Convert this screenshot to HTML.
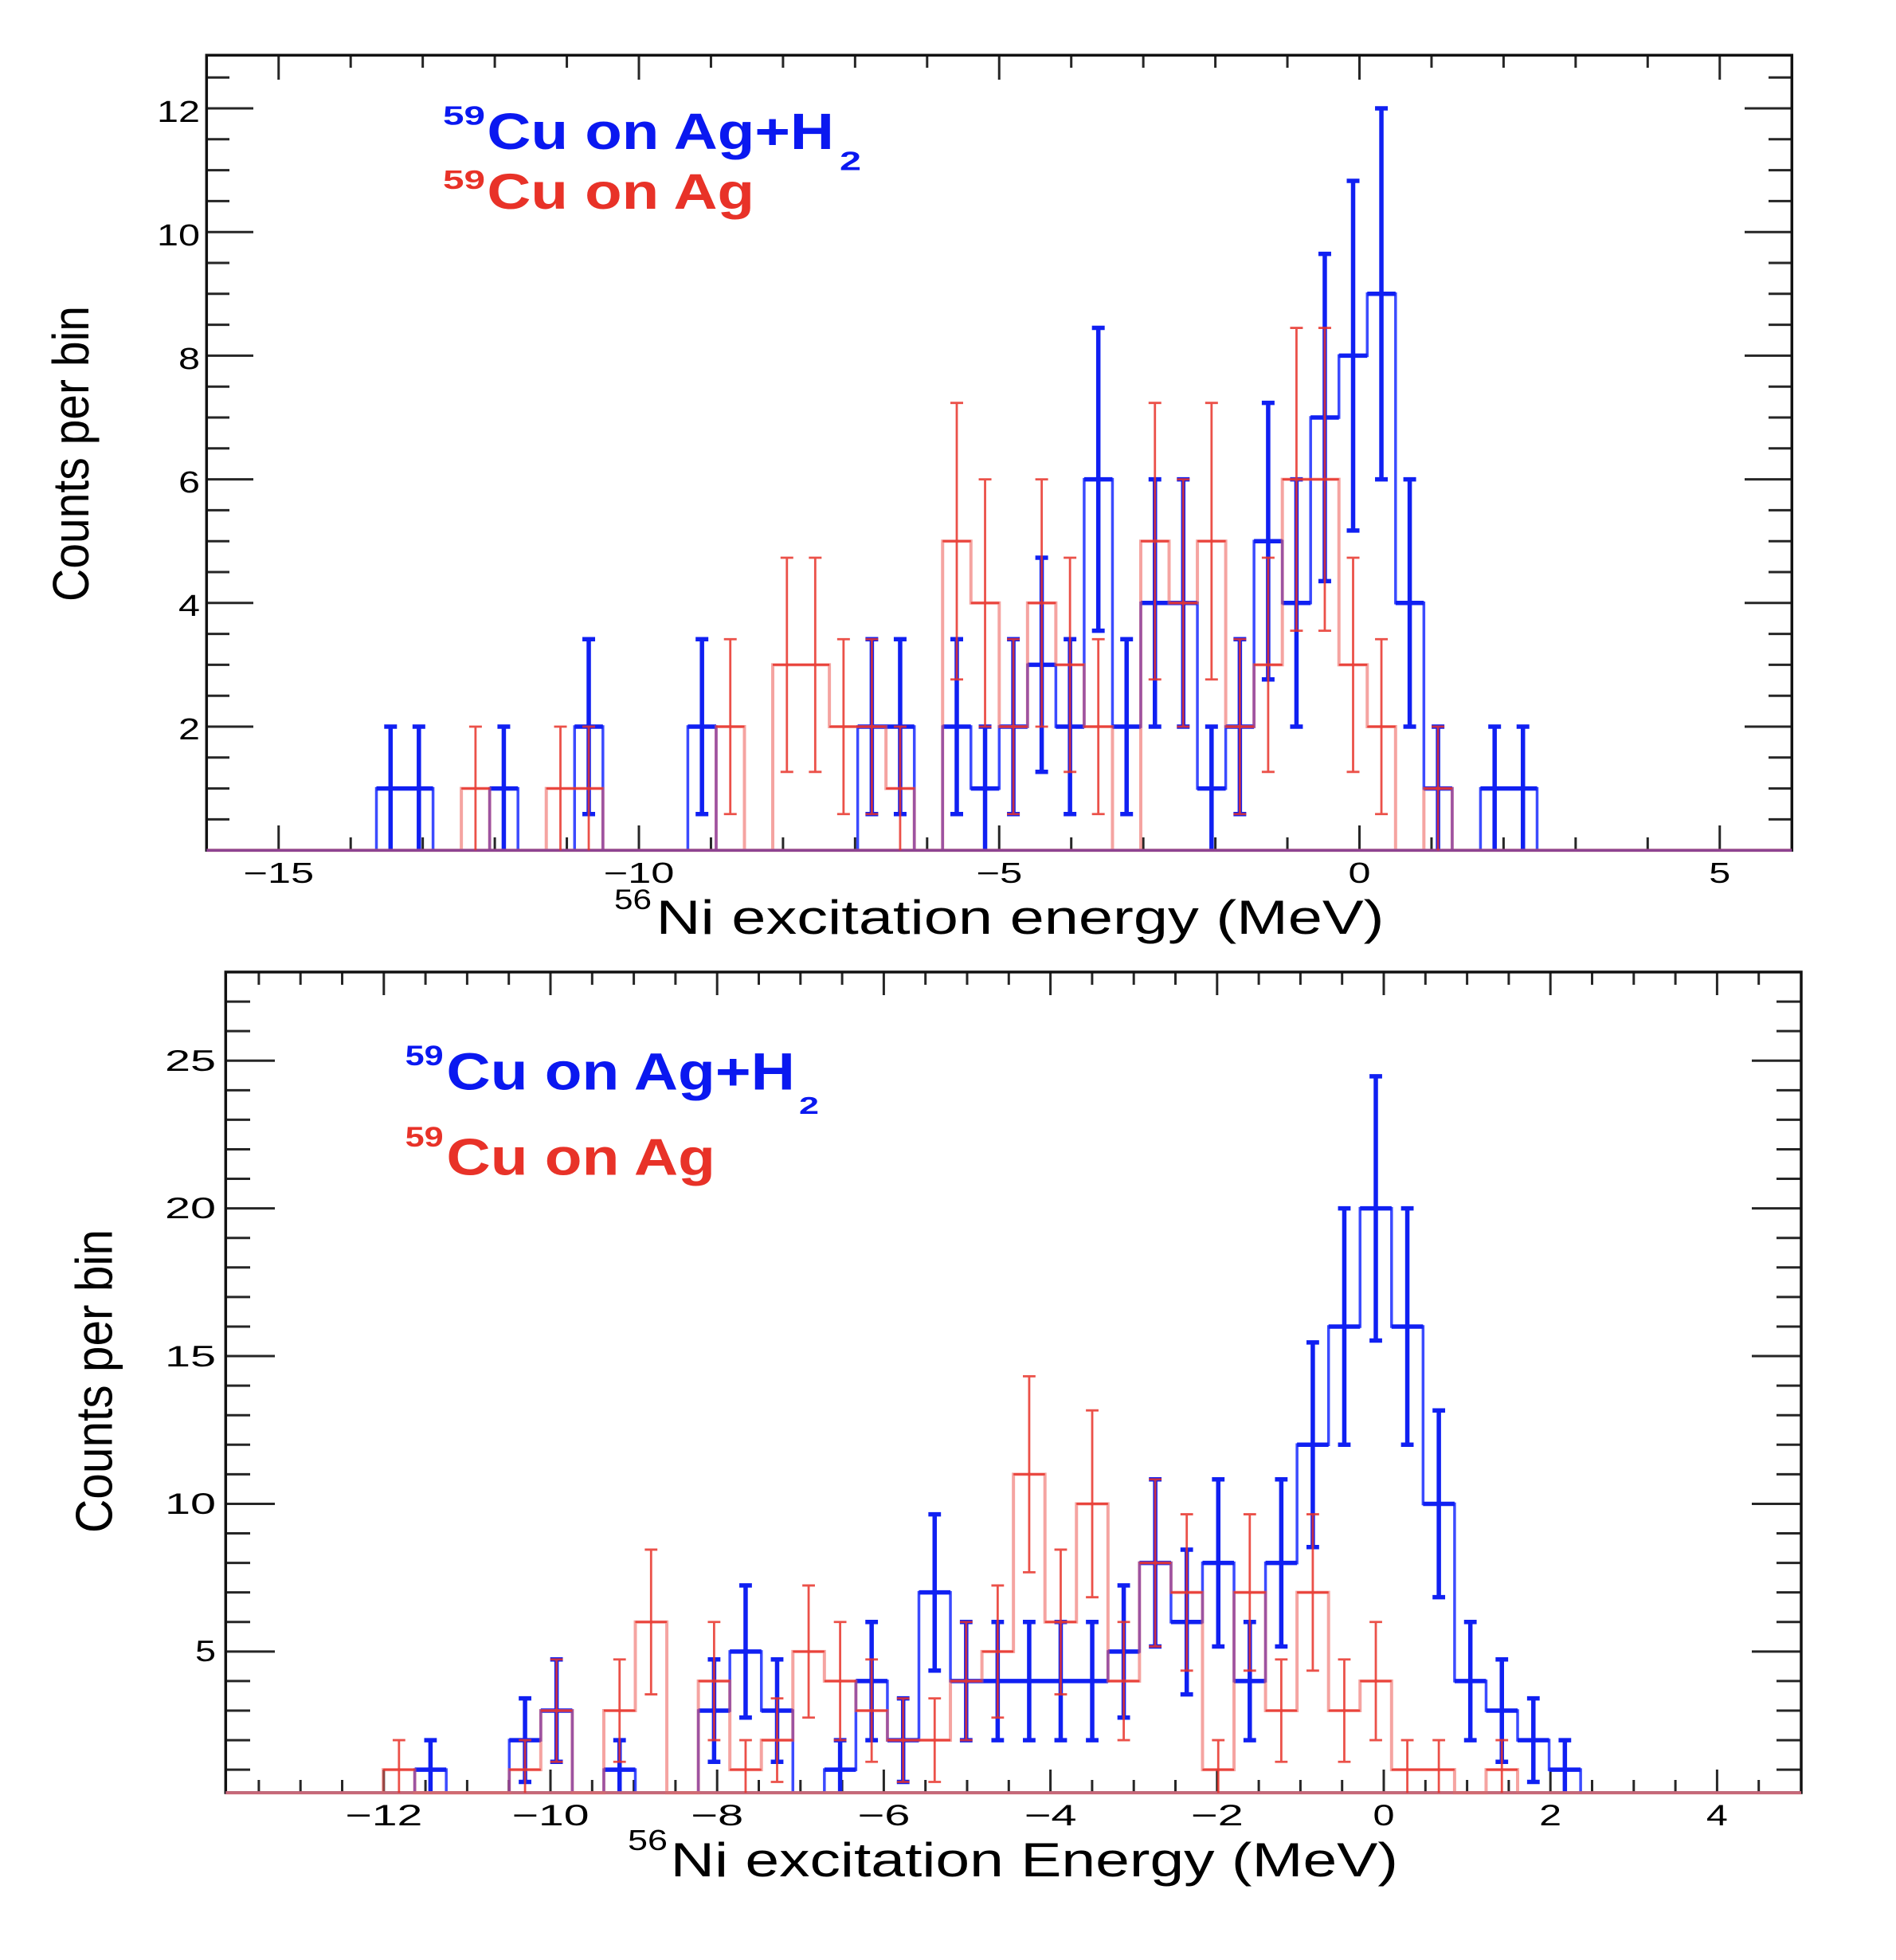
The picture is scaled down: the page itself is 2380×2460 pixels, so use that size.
<!DOCTYPE html>
<html>
<head>
<meta charset="utf-8">
<style>
html,body{margin:0;padding:0;background:#fff;}
svg{display:block;}
text{font-family:"Liberation Sans",Arial,Helvetica,sans-serif;}
.b{font-weight:bold;}
</style>
</head>
<body>
<svg width="2380" height="2460" viewBox="0 0 2380 2460" xmlns="http://www.w3.org/2000/svg">
<rect x="0" y="0" width="2380" height="2460" fill="#ffffff"/>

<!-- ================= TOP PLOT ================= -->
<g stroke="#262626" stroke-width="3" fill="none">
<path d="M349.75,1067V1036M802,1067V1036M1254.25,1067V1036M1706.5,1067V1036M2158.75,1067V1036"/>
<path d="M440.2,1067V1051M530.65,1067V1051M621.1,1067V1051M711.55,1067V1051M892.45,1067V1051M982.9,1067V1051M1073.35,1067V1051M1163.8,1067V1051M1344.7,1067V1051M1435.15,1067V1051M1525.6,1067V1051M1616.05,1067V1051M1796.95,1067V1051M1887.4,1067V1051M1977.85,1067V1051M2068.3,1067V1051"/>
<path d="M349.75,69V100M802,69V100M1254.25,69V100M1706.5,69V100M2158.75,69V100"/>
<path d="M440.2,69V85M530.65,69V85M621.1,69V85M711.55,69V85M892.45,69V85M982.9,69V85M1073.35,69V85M1163.8,69V85M1344.7,69V85M1435.15,69V85M1525.6,69V85M1616.05,69V85M1796.95,69V85M1887.4,69V85M1977.85,69V85M2068.3,69V85"/>
<path d="M259,912H318M259,756.8H318M259,601.6H318M259,446.4H318M259,291.2H318M259,136H318"/>
<path d="M259,1028.4H288M259,989.6H288M259,950.8H288M259,873.2H288M259,834.4H288M259,795.6H288M259,718H288M259,679.2H288M259,640.4H288M259,562.8H288M259,524H288M259,485.2H288M259,407.6H288M259,368.8H288M259,330H288M259,252.4H288M259,213.6H288M259,174.8H288M259,97.2H288"/>
<path d="M2249.5,912H2190M2249.5,756.8H2190M2249.5,601.6H2190M2249.5,446.4H2190M2249.5,291.2H2190M2249.5,136H2190"/>
<path d="M2249.5,1028.4H2220M2249.5,989.6H2220M2249.5,950.8H2220M2249.5,873.2H2220M2249.5,834.4H2220M2249.5,795.6H2220M2249.5,718H2220M2249.5,679.2H2220M2249.5,640.4H2220M2249.5,562.8H2220M2249.5,524H2220M2249.5,485.2H2220M2249.5,407.6H2220M2249.5,368.8H2220M2249.5,330H2220M2249.5,252.4H2220M2249.5,213.6H2220M2249.5,174.8H2220M2249.5,97.2H2220"/>
</g>
<rect x="259.3" y="69.3" width="1990" height="997.9" fill="none" stroke="#111" stroke-width="3.5"/>

<g transform="translate(259.3,1067.2) scale(35.536,-77.6)" fill="none">
<path vector-effect="non-scaling-stroke" stroke="#1a2cff" stroke-width="3.5" opacity="0.85"
 d="M0,0H56M6,0V1H8V0H10V1H11V0H13V2H14V0H17V2H18V0H23V2H25V0H26V2H27V1H28V2H29V3H30V2H31V6H32V2H33V4H35V1H36V2H37V5H38V4H39V7H40V8H41V9H42V4H43V1H44V0H45V1H47V0"/>
<path vector-effect="non-scaling-stroke" stroke="#1020f2" stroke-width="5.5"
 d="M6.5,0V2M6.275,2h.45M6,1H7M7.5,0V2M7.275,2h.45M7,1H8M10.5,0V2M10.275,2h.45M10,1H11M13.5,.586V3.414M13.275,3.414h.45M13.275,.586h.45M13,2H14M17.5,.586V3.414M17.275,3.414h.45M17.275,.586h.45M17,2H18M23.5,.586V3.414M23.275,3.414h.45M23.275,.586h.45M23,2H24M24.5,.586V3.414M24.275,3.414h.45M24.275,.586h.45M24,2H25M26.5,.586V3.414M26.275,3.414h.45M26.275,.586h.45M26,2H27M27.5,0V2M27.275,2h.45M27,1H28M28.5,.586V3.414M28.275,3.414h.45M28.275,.586h.45M28,2H29M29.5,1.268V4.732M29.275,4.732h.45M29.275,1.268h.45M29,3H30M30.5,.586V3.414M30.275,3.414h.45M30.275,.586h.45M30,2H31M31.5,3.551V8.449M31.275,8.449h.45M31.275,3.551h.45M31,6H32M32.5,.586V3.414M32.275,3.414h.45M32.275,.586h.45M32,2H33M33.5,2V6M33.275,6h.45M33.275,2h.45M33,4H34M34.5,2V6M34.275,6h.45M34.275,2h.45M34,4H35M35.5,0V2M35.275,2h.45M35,1H36M36.5,.586V3.414M36.275,3.414h.45M36.275,.586h.45M36,2H37M37.5,2.764V7.236M37.275,7.236h.45M37.275,2.764h.45M37,5H38M38.5,2V6M38.275,6h.45M38.275,2h.45M38,4H39M39.5,4.354V9.646M39.275,9.646h.45M39.275,4.354h.45M39,7H40M40.5,5.172V10.828M40.275,10.828h.45M40.275,5.172h.45M40,8H41M41.5,6V12M41.275,12h.45M41.275,6h.45M41,9H42M42.5,2V6M42.275,6h.45M42.275,2h.45M42,4H43M43.5,0V2M43.275,2h.45M43,1H44M45.5,0V2M45.275,2h.45M45,1H46M46.5,0V2M46.275,2h.45M46,1H47"/>
<path vector-effect="non-scaling-stroke" stroke="#ee5a55" stroke-width="4" opacity="0.55"
 d="M0,0H56M9,0V1H10V0H12V1H14V0H18V2H19V0H20V3H22V2H24V1H25V0H26V5H27V4H28V2H29V4H30V3H31V2H32V0H33V5H34V4H35V5H36V2H37V3H38V6H40V3H41V2H42V0H43V1H44V0"/>
<path vector-effect="non-scaling-stroke" stroke="#e8332a" stroke-width="2.8" opacity="0.85"
 d="M9.5,0V2M9.275,2h.45M9,1H10M12.5,0V2M12.275,2h.45M12,1H13M13.5,0V2M13.275,2h.45M13,1H14M18.5,.586V3.414M18.275,3.414h.45M18.275,.586h.45M18,2H19M20.5,1.268V4.732M20.275,4.732h.45M20.275,1.268h.45M20,3H21M21.5,1.268V4.732M21.275,4.732h.45M21.275,1.268h.45M21,3H22M22.5,.586V3.414M22.275,3.414h.45M22.275,.586h.45M22,2H23M23.5,.586V3.414M23.275,3.414h.45M23.275,.586h.45M23,2H24M24.5,0V2M24.275,2h.45M24,1H25M26.5,2.764V7.236M26.275,7.236h.45M26.275,2.764h.45M26,5H27M27.5,2V6M27.275,6h.45M27.275,2h.45M27,4H28M28.5,.586V3.414M28.275,3.414h.45M28.275,.586h.45M28,2H29M29.5,2V6M29.275,6h.45M29.275,2h.45M29,4H30M30.5,1.268V4.732M30.275,4.732h.45M30.275,1.268h.45M30,3H31M31.5,.586V3.414M31.275,3.414h.45M31.275,.586h.45M31,2H32M33.5,2.764V7.236M33.275,7.236h.45M33.275,2.764h.45M33,5H34M34.5,2V6M34.275,6h.45M34.275,2h.45M34,4H35M35.5,2.764V7.236M35.275,7.236h.45M35.275,2.764h.45M35,5H36M36.5,.586V3.414M36.275,3.414h.45M36.275,.586h.45M36,2H37M37.5,1.268V4.732M37.275,4.732h.45M37.275,1.268h.45M37,3H38M38.5,3.551V8.449M38.275,8.449h.45M38.275,3.551h.45M38,6H39M39.5,3.551V8.449M39.275,8.449h.45M39.275,3.551h.45M39,6H40M40.5,1.268V4.732M40.275,4.732h.45M40.275,1.268h.45M40,3H41M41.5,.586V3.414M41.275,3.414h.45M41.275,.586h.45M41,2H42M43.5,0V2M43.275,2h.45M43,1H44"/>
</g>

<g font-size="38" fill="#000" text-anchor="end">
<text x="251" y="153" textLength="54" lengthAdjust="spacingAndGlyphs">12</text>
<text x="251" y="308" textLength="54" lengthAdjust="spacingAndGlyphs">10</text>
<text x="251" y="463" textLength="27" lengthAdjust="spacingAndGlyphs">8</text>
<text x="251" y="618" textLength="27" lengthAdjust="spacingAndGlyphs">6</text>
<text x="251" y="773" textLength="27" lengthAdjust="spacingAndGlyphs">4</text>
<text x="251" y="928" textLength="27" lengthAdjust="spacingAndGlyphs">2</text>
</g>
<g font-size="36" fill="#000" text-anchor="middle">
<text x="349.75" y="1108" textLength="89" lengthAdjust="spacingAndGlyphs">−15</text>
<text x="802" y="1108" textLength="89" lengthAdjust="spacingAndGlyphs">−10</text>
<text x="1254.25" y="1108" textLength="58" lengthAdjust="spacingAndGlyphs">−5</text>
<text x="1706.5" y="1108" textLength="28" lengthAdjust="spacingAndGlyphs">0</text>
<text x="2158.75" y="1108" textLength="27" lengthAdjust="spacingAndGlyphs">5</text>
</g>
<text x="771" y="1141" font-size="35" fill="#000" textLength="47" lengthAdjust="spacingAndGlyphs">56</text>
<text x="823.5" y="1172" font-size="60" fill="#000" textLength="914" lengthAdjust="spacingAndGlyphs">Ni excitation energy (MeV)</text>
<text transform="translate(111,569.5) rotate(-90)" font-size="64" fill="#000" text-anchor="middle" textLength="371" lengthAdjust="spacingAndGlyphs">Counts per bin</text>
<g fill="#0a18f0">
<text class="b" x="556" y="156.4" font-size="33" textLength="53" lengthAdjust="spacingAndGlyphs">59</text>
<text class="b" x="611.4" y="186.8" font-size="64" textLength="435.6" lengthAdjust="spacingAndGlyphs">Cu on Ag+H</text>
<text class="b" x="1054" y="213.6" font-size="33" textLength="27" lengthAdjust="spacingAndGlyphs">2</text>
</g>
<g fill="#e83228">
<text class="b" x="556" y="236.8" font-size="33" textLength="53" lengthAdjust="spacingAndGlyphs">59</text>
<text class="b" x="611.4" y="261.8" font-size="63" textLength="335.6" lengthAdjust="spacingAndGlyphs">Cu on Ag</text>
</g>

<!-- ================= BOTTOM PLOT ================= -->
<g stroke="#262626" stroke-width="3" fill="none">
<path d="M481.8,2250V2221M691,2250V2221M900.2,2250V2221M1109.4,2250V2221M1318.6,2250V2221M1527.8,2250V2221M1737,2250V2221M1946.2,2250V2221M2155.4,2250V2221"/>
<path d="M324.9,2250V2234M377.2,2250V2234M429.5,2250V2234M534.1,2250V2234M586.4,2250V2234M638.7,2250V2234M743.3,2250V2234M795.6,2250V2234M847.9,2250V2234M952.5,2250V2234M1004.8,2250V2234M1057.1,2250V2234M1161.7,2250V2234M1214,2250V2234M1266.3,2250V2234M1370.9,2250V2234M1423.2,2250V2234M1475.5,2250V2234M1580.1,2250V2234M1632.4,2250V2234M1684.7,2250V2234M1789.3,2250V2234M1841.6,2250V2234M1893.9,2250V2234M1998.5,2250V2234M2050.8,2250V2234M2103.1,2250V2234M2207.7,2250V2234"/>
<path d="M481.8,1220V1249M691,1220V1249M900.2,1220V1249M1109.4,1220V1249M1318.6,1220V1249M1527.8,1220V1249M1737,1220V1249M1946.2,1220V1249M2155.4,1220V1249"/>
<path d="M324.9,1220V1236M377.2,1220V1236M429.5,1220V1236M534.1,1220V1236M586.4,1220V1236M638.7,1220V1236M743.3,1220V1236M795.6,1220V1236M847.9,1220V1236M952.5,1220V1236M1004.8,1220V1236M1057.1,1220V1236M1161.7,1220V1236M1214,1220V1236M1266.3,1220V1236M1370.9,1220V1236M1423.2,1220V1236M1475.5,1220V1236M1580.1,1220V1236M1632.4,1220V1236M1684.7,1220V1236M1789.3,1220V1236M1841.6,1220V1236M1893.9,1220V1236M1998.5,1220V1236M2050.8,1220V1236M2103.1,1220V1236M2207.7,1220V1236"/>
<path d="M283,2072.84H345M283,1887.44H345M283,1702.04H345M283,1516.64H345M283,1331.24H345"/>
<path d="M283,2221.16H314M283,2184.08H314M283,2147H314M283,2109.92H314M283,2035.76H314M283,1998.68H314M283,1961.6H314M283,1924.52H314M283,1850.36H314M283,1813.28H314M283,1776.2H314M283,1739.12H314M283,1664.96H314M283,1627.88H314M283,1590.8H314M283,1553.72H314M283,1479.56H314M283,1442.48H314M283,1405.4H314M283,1368.32H314M283,1294.16H314M283,1257.08H314"/>
<path d="M2261,2072.84H2199M2261,1887.44H2199M2261,1702.04H2199M2261,1516.64H2199M2261,1331.24H2199"/>
<path d="M2261,2221.16H2230M2261,2184.08H2230M2261,2147H2230M2261,2109.92H2230M2261,2035.76H2230M2261,1998.68H2230M2261,1961.6H2230M2261,1924.52H2230M2261,1850.36H2230M2261,1813.28H2230M2261,1776.2H2230M2261,1739.12H2230M2261,1664.96H2230M2261,1627.88H2230M2261,1590.8H2230M2261,1553.72H2230M2261,1479.56H2230M2261,1442.48H2230M2261,1405.4H2230M2261,1368.32H2230M2261,1294.16H2230M2261,1257.08H2230"/>
</g>
<rect x="283.3" y="1220" width="1977.7" height="1030" fill="none" stroke="#111" stroke-width="3.5"/>

<g transform="translate(283.3,2258.24) scale(39.554,-37.08)" fill="none">
<path vector-effect="non-scaling-stroke" stroke="#1a2cff" stroke-width="3.5" opacity="0.85"
 d="M0,.22H50M6,.22V1H7V.22H9V2H10V3H11V.22H12V1H13V.22H15V3H16V5H17V3H18V.22H19V1H20V4H21V2H22V7H23V4H28V5H29V8H30V6H31V8H32V4H33V8H34V12H35V16H36V20H37V16H38V10H39V4H40V3H41V2H42V1H43V.22"/>
<path vector-effect="non-scaling-stroke" stroke="#1020f2" stroke-width="5.5"
 d="M6.5,.22V2M6.3,2h.4M6,1H7M9.5,.586V3.414M9.3,3.414h.4M9.3,.586h.4M9,2H10M10.5,1.268V4.732M10.3,4.732h.4M10.3,1.268h.4M10,3H11M12.5,.22V2M12.3,2h.4M12,1H13M15.5,1.268V4.732M15.3,4.732h.4M15.3,1.268h.4M15,3H16M16.5,2.764V7.236M16.3,7.236h.4M16.3,2.764h.4M16,5H17M17.5,1.268V4.732M17.3,4.732h.4M17.3,1.268h.4M17,3H18M19.5,.22V2M19.3,2h.4M19,1H20M20.5,2V6M20.3,6h.4M20.3,2h.4M20,4H21M21.5,.586V3.414M21.3,3.414h.4M21.3,.586h.4M21,2H22M22.5,4.354V9.646M22.3,9.646h.4M22.3,4.354h.4M22,7H23M23.5,2V6M23.3,6h.4M23.3,2h.4M23,4H24M24.5,2V6M24.3,6h.4M24.3,2h.4M24,4H25M25.5,2V6M25.3,6h.4M25.3,2h.4M25,4H26M26.5,2V6M26.3,6h.4M26.3,2h.4M26,4H27M27.5,2V6M27.3,6h.4M27.3,2h.4M27,4H28M28.5,2.764V7.236M28.3,7.236h.4M28.3,2.764h.4M28,5H29M29.5,5.172V10.828M29.3,10.828h.4M29.3,5.172h.4M29,8H30M30.5,3.551V8.449M30.3,8.449h.4M30.3,3.551h.4M30,6H31M31.5,5.172V10.828M31.3,10.828h.4M31.3,5.172h.4M31,8H32M32.5,2V6M32.3,6h.4M32.3,2h.4M32,4H33M33.5,5.172V10.828M33.3,10.828h.4M33.3,5.172h.4M33,8H34M34.5,8.536V15.464M34.3,15.464h.4M34.3,8.536h.4M34,12H35M35.5,12V20M35.3,20h.4M35.3,12h.4M35,16H36M36.5,15.528V24.472M36.3,24.472h.4M36.3,15.528h.4M36,20H37M37.5,12V20M37.3,20h.4M37.3,12h.4M37,16H38M38.5,6.838V13.162M38.3,13.162h.4M38.3,6.838h.4M38,10H39M39.5,2V6M39.3,6h.4M39.3,2h.4M39,4H40M40.5,1.268V4.732M40.3,4.732h.4M40.3,1.268h.4M40,3H41M41.5,.586V3.414M41.3,3.414h.4M41.3,.586h.4M41,2H42M42.5,.22V2M42.3,2h.4M42,1H43"/>
<path vector-effect="non-scaling-stroke" stroke="#ee5a55" stroke-width="4" opacity="0.55"
 d="M5,.22V1H6V.22H9V1H10V3H11V.22H12V3H13V6H14V.22H15V4H16V1H17V2H18V5H19V4H20V3H21V2H23V4H24V5H25V11H26V6H27V10H28V4H29V8H30V7H31V1H32V7H33V3H34V7H35V3H36V4H37V1H39V.22H40V1H41V.22"/>
<path vector-effect="non-scaling-stroke" stroke="#d9706f" stroke-width="4" opacity="0.9" d="M0,.22H50"/>
<path vector-effect="non-scaling-stroke" stroke="#e8332a" stroke-width="2.8" opacity="0.85"
 d="M5.5,.22V2M5.3,2h.4M5,1H6M9.5,.22V2M9.3,2h.4M9,1H10M10.5,1.268V4.732M10.3,4.732h.4M10.3,1.268h.4M10,3H11M12.5,1.268V4.732M12.3,4.732h.4M12.3,1.268h.4M12,3H13M13.5,3.551V8.449M13.3,8.449h.4M13.3,3.551h.4M13,6H14M15.5,2V6M15.3,6h.4M15.3,2h.4M15,4H16M16.5,.22V2M16.3,2h.4M16,1H17M17.5,.586V3.414M17.3,3.414h.4M17.3,.586h.4M17,2H18M18.5,2.764V7.236M18.3,7.236h.4M18.3,2.764h.4M18,5H19M19.5,2V6M19.3,6h.4M19.3,2h.4M19,4H20M20.5,1.268V4.732M20.3,4.732h.4M20.3,1.268h.4M20,3H21M21.5,.586V3.414M21.3,3.414h.4M21.3,.586h.4M21,2H22M22.5,.586V3.414M22.3,3.414h.4M22.3,.586h.4M22,2H23M23.5,2V6M23.3,6h.4M23.3,2h.4M23,4H24M24.5,2.764V7.236M24.3,7.236h.4M24.3,2.764h.4M24,5H25M25.5,7.683V14.317M25.3,14.317h.4M25.3,7.683h.4M25,11H26M26.5,3.551V8.449M26.3,8.449h.4M26.3,3.551h.4M26,6H27M27.5,6.838V13.162M27.3,13.162h.4M27.3,6.838h.4M27,10H28M28.5,2V6M28.3,6h.4M28.3,2h.4M28,4H29M29.5,5.172V10.828M29.3,10.828h.4M29.3,5.172h.4M29,8H30M30.5,4.354V9.646M30.3,9.646h.4M30.3,4.354h.4M30,7H31M31.5,.22V2M31.3,2h.4M31,1H32M32.5,4.354V9.646M32.3,9.646h.4M32.3,4.354h.4M32,7H33M33.5,1.268V4.732M33.3,4.732h.4M33.3,1.268h.4M33,3H34M34.5,4.354V9.646M34.3,9.646h.4M34.3,4.354h.4M34,7H35M35.5,1.268V4.732M35.3,4.732h.4M35.3,1.268h.4M35,3H36M36.5,2V6M36.3,6h.4M36.3,2h.4M36,4H37M37.5,.22V2M37.3,2h.4M37,1H38M38.5,.22V2M38.3,2h.4M38,1H39M40.5,.22V2M40.3,2h.4M40,1H41"/>
</g>

<g font-size="37" fill="#000" text-anchor="end">
<text x="271" y="1344" textLength="64" lengthAdjust="spacingAndGlyphs">25</text>
<text x="271" y="1529" textLength="64" lengthAdjust="spacingAndGlyphs">20</text>
<text x="271" y="1715" textLength="64" lengthAdjust="spacingAndGlyphs">15</text>
<text x="271" y="1900" textLength="64" lengthAdjust="spacingAndGlyphs">10</text>
<text x="271" y="2085" textLength="26" lengthAdjust="spacingAndGlyphs">5</text>
</g>
<g font-size="37" fill="#000" text-anchor="middle">
<text x="481.8" y="2291" textLength="97" lengthAdjust="spacingAndGlyphs">−12</text>
<text x="691" y="2291" textLength="97" lengthAdjust="spacingAndGlyphs">−10</text>
<text x="900.2" y="2291" textLength="66" lengthAdjust="spacingAndGlyphs">−8</text>
<text x="1109.4" y="2291" textLength="66" lengthAdjust="spacingAndGlyphs">−6</text>
<text x="1318.6" y="2291" textLength="66" lengthAdjust="spacingAndGlyphs">−4</text>
<text x="1527.8" y="2291" textLength="66" lengthAdjust="spacingAndGlyphs">−2</text>
<text x="1737" y="2291" textLength="27" lengthAdjust="spacingAndGlyphs">0</text>
<text x="1946.2" y="2291" textLength="28" lengthAdjust="spacingAndGlyphs">2</text>
<text x="2155.4" y="2291" textLength="27" lengthAdjust="spacingAndGlyphs">4</text>
</g>
<text x="788" y="2322" font-size="36" fill="#000" textLength="50" lengthAdjust="spacingAndGlyphs">56</text>
<text x="841.5" y="2355" font-size="60" fill="#000" textLength="913.5" lengthAdjust="spacingAndGlyphs">Ni excitation Energy (MeV)</text>
<text transform="translate(140.5,1733.5) rotate(-90)" font-size="65" fill="#000" text-anchor="middle" textLength="381" lengthAdjust="spacingAndGlyphs">Counts per bin</text>
<g fill="#0a18f0">
<text class="b" x="508.6" y="1337" font-size="35" textLength="48" lengthAdjust="spacingAndGlyphs">59</text>
<text class="b" x="560.4" y="1367.5" font-size="66" textLength="437.5" lengthAdjust="spacingAndGlyphs">Cu on Ag+H</text>
<text class="b" x="1003" y="1398" font-size="31" textLength="25" lengthAdjust="spacingAndGlyphs">2</text>
</g>
<g fill="#e83228">
<text class="b" x="508.6" y="1439" font-size="35" textLength="48" lengthAdjust="spacingAndGlyphs">59</text>
<text class="b" x="560.4" y="1474.6" font-size="65" textLength="337.6" lengthAdjust="spacingAndGlyphs">Cu on Ag</text>
</g>
</svg>
</body>
</html>
